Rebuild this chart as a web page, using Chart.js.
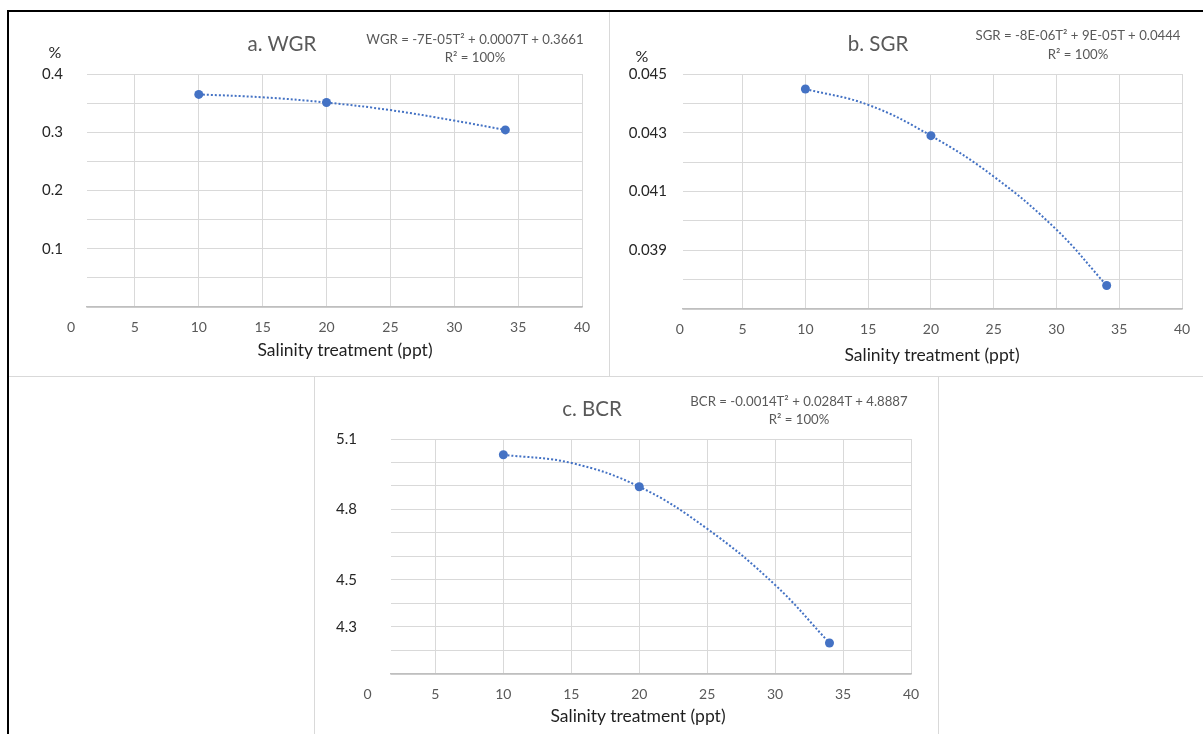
<!DOCTYPE html>
<html>
<head>
<meta charset="utf-8">
<script src="https://cdn.jsdelivr.net/npm/chart.js@4.4.1/dist/chart.umd.min.js"></script>
<style>
  body { margin: 0; background: #fff; width: 1203px; height: 734px; position: relative; overflow: hidden;
         font-family: Lato, "Liberation Sans", sans-serif; }
  .box { position: absolute; }
  .box canvas { position: absolute; left: 0; top: 0; }
  .line { position: absolute; }
  .txt { position: absolute; transform: translate(-50%, -50%); white-space: nowrap; }
  .title { font-size: 20.5px; color: #595959; }
  .eq { font-size: 13.2px; color: #595959; text-align: center; }
  .xt { font-size: 17.5px; color: #1f1f1f; }
  .pct { font-size: 16px; color: #262626; }
</style>
</head>
<body>

<div class="line" style="left:8px;top:10px;width:1195px;height:2px;background:#000"></div>
<div class="line" style="left:7px;top:10px;width:2px;height:724px;background:#000"></div>
<div class="line" style="left:609px;top:12px;width:1px;height:364px;background:#d9d9d9"></div>
<div class="line" style="left:9px;top:376px;width:1194px;height:1px;background:#d9d9d9"></div>
<div class="line" style="left:314px;top:376px;width:1px;height:358px;background:#d9d9d9"></div>
<div class="line" style="left:938px;top:376px;width:1px;height:358px;background:#d9d9d9"></div>

<div class="box" style="left:9px;top:12px;width:600px;height:364px"><canvas id="wgrChart" width="600" height="364"></canvas></div>
<div class="box" style="left:610px;top:12px;width:593px;height:364px"><canvas id="sgrChart" width="593" height="364"></canvas></div>
<div class="box" style="left:315px;top:377px;width:623px;height:357px"><canvas id="bcrChart" width="623" height="357"></canvas></div>

<div class="txt pct" style="left:55px;top:51px">%</div>
<div class="txt title" style="left:282px;top:43px">a. WGR</div>
<div class="txt eq" style="left:475px;top:39px">WGR = -7E-05T² + 0.0007T + 0.3661</div>
<div class="txt eq" style="left:475px;top:57px">R² = 100%</div>
<div class="txt xt" style="left:345px;top:349px">Salinity treatment (ppt)</div>

<div class="txt pct" style="left:642px;top:55px">%</div>
<div class="txt title" style="left:878px;top:43px">b. SGR</div>
<div class="txt eq" style="left:1078px;top:35px">SGR = -8E-06T² + 9E-05T + 0.0444</div>
<div class="txt eq" style="left:1078px;top:54px">R² = 100%</div>
<div class="txt xt" style="left:932px;top:354px">Salinity treatment (ppt)</div>

<div class="txt title" style="left:592px;top:408px">c. BCR</div>
<div class="txt eq" style="left:799px;top:401px">BCR = -0.0014T² + 0.0284T + 4.8887</div>
<div class="txt eq" style="left:799px;top:419px">R² = 100%</div>
<div class="txt xt" style="left:638px;top:715px">Salinity treatment (ppt)</div>

<script>
// measured points
const salinity = [10, 20, 34];
const wgrValues = [0.365, 0.351, 0.304];
const sgrValues = [0.04449, 0.0429, 0.0378];
const bcrValues = [5.033, 4.897, 4.232];

// dotted trendline
const trendX = [10, 15, 20, 25, 30, 34];
const wgrTrend = [0.365, 0.360, 0.351, 0.338, 0.320, 0.304];
const sgrTrend = [0.04449, 0.04395, 0.0429, 0.04151, 0.0397, 0.0378];
const bcrTrend = [5.033, 4.998, 4.897, 4.718, 4.479, 4.232];

const xTicks = [0, 5, 10, 15, 20, 25, 30, 35, 40];
const wgrLabels = [0.1, 0.2, 0.3, 0.4];
const sgrLabels = [0.039, 0.041, 0.043, 0.045];
const bcrLabels = [4.3, 4.5, 4.8, 5.1];

const BLUE = '#4472C4';
const FONT = 'Lato, "Liberation Sans", sans-serif';

function makeChart(id, values, trend, yLabels, opt) {
    return new Chart(document.getElementById(id), {
        type: 'scatter',
        data: {
            datasets: [{
                data: salinity.map((x, i) => ({ x: x, y: values[i] })),
                backgroundColor: BLUE,
                pointBorderWidth: 0,
                pointRadius: 4.5
            }, {
                data: trendX.map((x, i) => ({ x: x, y: trend[i] })),
                showLine: true,
                tension: 0.4,
                borderColor: BLUE,
                borderWidth: 2,
                borderDash: [2, 2],
                pointRadius: 0
            }]
        },
        options: {
            responsive: false,
            animation: false,
            layout: { padding: { top: opt.top, right: opt.right, left: 0, bottom: 0 } },
            plugins: { legend: { display: false }, tooltip: { enabled: false } },
            scales: {
                x: {
                    type: 'linear',
                    min: opt.xmin,
                    max: 40,
                    afterBuildTicks: s => { s.ticks = xTicks.map(v => ({ value: v })); },
                    afterFit: s => { s.height = opt.xh; },
                    grid: {
                        drawTicks: false,
                        color: ctx => (ctx.tick && ctx.tick.value < opt.xmin) ? 'rgba(0,0,0,0)' : '#d9d9d9'
                    },
                    border: { display: true, color: '#bfbfbf', width: 1.5 },
                    ticks: {
                        autoSkip: false, maxRotation: 0, padding: 12,
                        color: '#595959', font: { family: FONT, size: 14 }
                    }
                },
                y: {
                    min: opt.ymin,
                    max: opt.ymax,
                    afterFit: s => { s.width = opt.yw; },
                    grid: { drawTicks: false, color: '#d9d9d9' },
                    border: { display: false },
                    ticks: {
                        stepSize: opt.step,
                        padding: opt.ypad,
                        color: '#262626',
                        font: { family: FONT, size: 15 },
                        callback: v => {
                            const l = yLabels.find(l => Math.abs(l - v) < 1e-9);
                            return l === undefined ? '' : String(l);
                        }
                    }
                }
            }
        }
    });
}

makeChart('wgrChart', wgrValues, wgrTrend, wgrLabels,
    { xmin: 1.25, ymin: 0, ymax: 0.4, step: 0.05, top: 62, right: 27, xh: 69, yw: 78, ypad: 24 });
makeChart('sgrChart', sgrValues, sgrTrend, sgrLabels,
    { xmin: 0.25, ymin: 0.037, ymax: 0.045, step: 0.001, top: 62, right: 21, xh: 67, yw: 73, ypad: 16 });
makeChart('bcrChart', bcrValues, bcrTrend, bcrLabels,
    { xmin: 1.73, ymin: 4.1, ymax: 5.1, step: 0.1, top: 62, right: 27, xh: 60, yw: 76, ypad: 34 });
</script>
</body>
</html>
